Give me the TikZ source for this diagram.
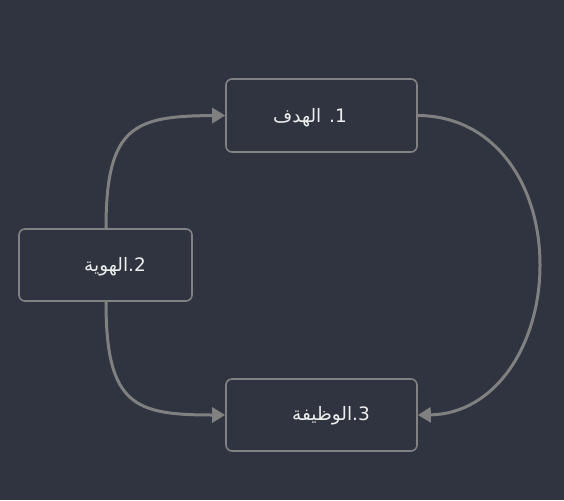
\documentclass[tikz,border=0pt]{standalone}
\usepackage{fontspec}
\newfontfamily\arabicfont[Script=Arabic]{DejaVu Sans}
\TeXXeTstate=1
\usetikzlibrary{arrows.meta}
\definecolor{bgc}{RGB}{47,52,64}
\definecolor{boxc}{RGB}{47,52,64}
\definecolor{edgec}{RGB}{130,130,130}
\definecolor{linec}{RGB}{128,128,128}
\definecolor{txtc}{RGB}{238,238,238}
\begin{document}
\begin{tikzpicture}[x=1pt,y=-1pt,
  boxstyle/.style={draw=edgec, fill=boxc, line width=1.6pt, rounded corners=6pt, inner sep=0pt},
  lbl/.style={text=txtc, font=\arabicfont\fontsize{18.5}{22}\selectfont, inner sep=0pt},
  conn/.style={draw=linec, line width=3pt, -{Triangle[length=13pt,width=15pt]}}]
\useasboundingbox[fill=bgc] (0,0) rectangle (564,500);
\node[boxstyle, minimum width=191pt, minimum height=73pt] (A) at (321.5,115.5) {};
\node[boxstyle, minimum width=173pt, minimum height=72pt] (B) at (105.5,265) {};
\node[boxstyle, minimum width=191pt, minimum height=72pt] (C) at (321.5,415) {};
\node[lbl] (tA) at (310,118) {\beginR 1. الهدف\endR};
\node[lbl] (tB) at (115,267) {\beginR 2.الهوية\endR};
\node[lbl] (tC) at (331,416) {\beginR 3.الوظيفة\endR};
\coordinate (Bt) at (B.north -| 106,0);
\coordinate (Bb) at (B.south -| 106,0);
\draw[conn] (Bt) .. controls (106,125) and (135,116) .. (A.west);
\draw[conn] (Bb) .. controls (106,406) and (135,415) .. (C.west);
\draw[conn] (A.east) .. controls (495,116) and (540,185) .. (540,265) .. controls (540,345) and (495,414) .. (C.east);
\end{tikzpicture}
\end{document}
